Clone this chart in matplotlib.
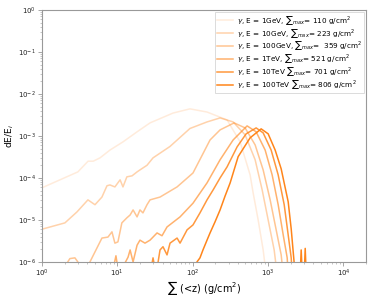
import matplotlib
matplotlib.use('Agg')
import matplotlib.pyplot as plt

# Longitudinal energy deposit profiles.
labels = [r'$\gamma$, E = 1GeV, $\sum{}_{max}$= 110 g/cm$^2$',
          r'$\gamma$, E = 10GeV, $\sum{}_{max}$= 223 g/cm$^2$',
          r'$\gamma$, E = 100GeV, $\sum{}_{max}$=  359 g/cm$^2$',
          r'$\gamma$, E = 1TeV, $\sum{}_{max}$= 521 g/cm$^2$',
          r'$\gamma$, E = 10TeV $\sum{}_{max}$= 701 g/cm$^2$',
          r'$\gamma$, E = 100TeV $\sum{}_{max}$= 806 g/cm$^2$']

x_1gev = [1, 3.0, 4.1, 4.8, 5.9, 8.0, 11.9, 18.3, 27.2, 55, 92, 155, 286,
          426, 578, 634, 739, 861, 944]
y_1gev = [5.8e-5, 1.39e-4, 2.5e-4, 2.5e-4, 3.0e-4, 4.6e-4, 7.2e-4, 1.25e-3,
          2.04e-3, 3.5e-3, 4.4e-3, 3.7e-3, 2.4e-3, 7.2e-4, 1.18e-4, 4.4e-5,
          1.0e-5, 1.93e-6, 5e-7]

x_10gev = [1, 2.02, 2.92, 4.08, 5.06, 6.26, 7.3, 8.0, 9.3, 10.9, 11.9, 13.4,
           15.7, 18.3, 20.0, 24.8, 29.8, 50, 92, 155, 231, 344, 496, 674,
           835, 1003, 1205, 1321]
y_10gev = [6.0e-6, 8.5e-6, 1.55e-5, 3.0e-5, 2.3e-5, 3.5e-5, 6.5e-5, 6.8e-5,
           6.1e-5, 9.0e-5, 6.1e-5, 1.06e-4, 1.12e-4, 1.39e-4, 1.55e-4,
           2.0e-4, 3.0e-4, 5.6e-4, 1.5e-3, 2.15e-3, 2.68e-3, 2.15e-3,
           1.06e-3, 2.7e-4, 5.2e-5, 1.0e-5, 1.93e-6, 5e-7]

x_100gev = [1.73, 2.35, 2.74, 3.0, 3.4, 4.34, 6.26, 7.52, 8.5, 9.3, 10.2,
            11.5, 13.4, 14.8, 16.2, 18.3, 20.0, 21.9, 24.8, 27.2, 36.9, 62.1,
            101, 170, 231, 355, 496, 674, 861, 1066, 1281, 1493, 1588]
y_100gev = [5e-7, 1.2e-6, 1.25e-6, 1.0e-6, 4e-7, 1.0e-6, 3.7e-6, 3.9e-6,
            5.2e-6, 2.8e-6, 3.0e-6, 8.5e-6, 1.12e-5, 1.31e-5, 1.73e-5,
            1.18e-5, 1.73e-5, 1.47e-5, 2.3e-5, 3.0e-5, 3.5e-5, 6.1e-5,
            1.31e-4, 8.0e-4, 1.39e-3, 2.04e-3, 1.55e-3, 6.1e-4, 1.55e-4,
            3.0e-5, 5.8e-6, 1.47e-6, 5e-7]

x_1tev = [8.5, 9.6, 10.5, 13.9, 14.8, 16.2, 18.3, 20.0, 23.3, 27.2, 33.7,
          39.2, 45.7, 68, 101, 155, 231, 344, 527, 695, 915, 1133, 1362,
          1588, 1794, 1849]
y_1tev = [5e-7, 1.4e-6, 5e-7, 1.3e-6, 1.93e-6, 1.0e-6, 2.5e-6, 3.3e-6,
          2.8e-6, 3.3e-6, 4.9e-6, 4.2e-6, 6.8e-6, 1.18e-5, 2.5e-5, 7.6e-5,
          2.7e-4, 8.0e-4, 1.73e-3, 1.25e-3, 4.6e-4, 1.18e-4, 2.3e-5,
          4.4e-6, 1.25e-6, 5e-7]

x_10tev = [27.2, 29.8, 32.7, 36.9, 40.4, 45.7, 50.1, 62.1, 68, 84.3, 101,
           125, 155, 187, 231, 286, 389, 512, 695, 861, 1099, 1362, 1637,
           1849, 2028, 2091]
y_10tev = [5e-7, 1.25e-6, 5e-7, 1.93e-6, 2.3e-6, 1.47e-6, 2.8e-6, 3.7e-6,
           2.8e-6, 5.8e-6, 7.6e-6, 1.47e-5, 3.0e-5, 5.2e-5, 1.0e-4, 1.83e-4,
           5.5e-4, 1.12e-3, 1.55e-3, 1.18e-3, 4.6e-4, 1.18e-4, 2.3e-5,
           4.4e-6, 1.25e-6, 5e-7]

x_100tev = [108, 114, 125, 137, 155, 170, 198, 231, 269, 314, 401, 578, 810,
            1003, 1242, 1493, 1849, 2028, 2155, 2291, 2670, 2750, 2840,
            3016, 3110, 3207]
y_100tev = [5e-7, 1.0e-6, 1.25e-6, 1.93e-6, 3.3e-6, 4.9e-6, 9.0e-6, 1.73e-5,
            3.7e-5, 7.6e-5, 3.2e-4, 9.0e-4, 1.47e-3, 1.12e-3, 4.6e-4,
            1.64e-4, 2.7e-5, 6.1e-6, 1.73e-6, 5e-7, 5e-7, 1.93e-6, 5e-7,
            5e-7, 2.1e-6, 5e-7]

profiles = [(x_1gev, y_1gev), (x_10gev, y_10gev), (x_100gev, y_100gev),
            (x_1tev, y_1tev), (x_10tev, y_10tev), (x_100tev, y_100tev)]
alphas = [0.15, 0.35, 0.45, 0.6, 0.8, 0.95]

fig = plt.figure(figsize=(3.74, 2.99), dpi=100)
ax = fig.add_axes([0.112, 0.124, 0.867, 0.843])

for (xs, ys), lab, a in zip(profiles, labels, alphas):
    ax.plot(xs, ys, color='#ff7f0e', alpha=a, lw=1.1, label=lab)

ax.set_xscale('log')
ax.set_yscale('log')
ax.set_xlim(1, 2e4)
ax.set_ylim(1e-6, 1)

for s in ax.spines.values():
    s.set_color('#999999')
ax.tick_params(which='both', colors='#999999', labelcolor='#222222',
               labelsize=5)
ax.tick_params(which='major', length=3, width=0.6, pad=1.5)
ax.tick_params(which='minor', length=1.5, width=0.4)

ax.set_xlabel(r'$\sum$ (<z) (g/cm$^2$)', fontsize=7, labelpad=-0.5)
ax.set_ylabel(r'dE/E$_i$', fontsize=6.5, labelpad=1)

leg = ax.legend(loc='upper right', fontsize=5.2, frameon=True,
                handlelength=2.2, labelspacing=0.0, borderpad=0.3,
                fancybox=False, borderaxespad=0.25, handletextpad=0.6)
leg.get_frame().set_edgecolor('#cccccc')
leg.get_frame().set_linewidth(0.6)

fig.savefig('out.png', dpi=100)
